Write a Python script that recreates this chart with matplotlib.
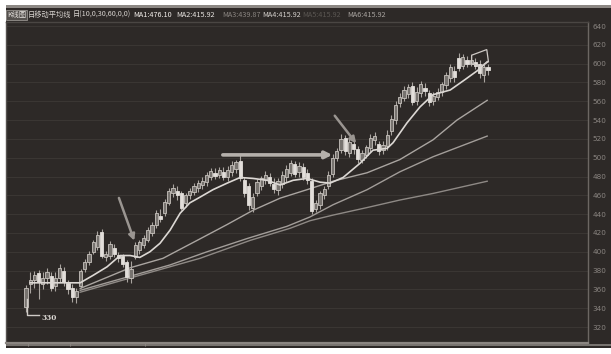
import matplotlib.pyplot as plt
from matplotlib.patches import Rectangle, Polygon

# daily candles (price units)
opens = [341, 366, 370, 377, 366, 372, 374, 364, 372, 380, 367, 362, 352, 364, 382, 389, 400, 405, 421, 394,
         395, 404, 397, 395, 389, 372, 394, 402, 407, 413, 420, 428, 438, 441, 452, 463, 465, 462, 452, 460,
         464, 468, 471, 474, 480, 484, 482, 485, 479, 485, 488, 497, 476, 470, 447, 462, 470, 476, 479, 472,
         466, 472, 479, 484, 493, 485, 490, 484, 475, 445, 450, 460, 470, 483, 500, 508, 521, 505, 515, 509,
         498, 503, 510, 519, 515, 508, 512, 528, 540, 558, 563, 568, 576, 560, 569, 574, 569, 560, 565, 570,
         577, 585, 592, 606, 598, 604, 600, 602, 600, 588, 596]
closes = [362, 370, 375, 368, 372, 378, 362, 372, 383, 368, 360, 352, 358, 380, 389, 398, 410, 418, 396, 398,
          408, 398, 393, 387, 373, 382, 407, 410, 415, 423, 428, 441, 435, 453, 465, 468, 460, 447, 460, 465,
          470, 473, 475, 482, 486, 481, 487, 480, 487, 492, 495, 478, 462, 450, 458, 474, 478, 482, 473, 467,
          475, 482, 488, 494, 483, 491, 480, 476, 443, 452, 462, 467, 482, 500, 507, 520, 507, 517, 509, 499,
          505, 511, 521, 523, 507, 514, 524, 541, 556, 565, 572, 575, 559, 570, 578, 571, 559, 566, 570, 578,
          588, 596, 586, 595, 607, 600, 604, 598, 590, 596, 593]
highs = [365, 378, 380, 381, 378, 383, 378, 378, 387, 384, 370, 366, 362, 382, 392, 401, 413, 422, 424, 401,
         411, 408, 400, 398, 391, 390, 410, 413, 418, 426, 432, 444, 445, 456, 468, 472, 470, 465, 463, 468,
         473, 476, 479, 485, 489, 489, 490, 490, 491, 496, 498, 503, 479, 473, 463, 477, 481, 486, 484, 478,
         478, 486, 492, 498, 497, 495, 494, 488, 478, 455, 465, 470, 486, 504, 510, 525, 524, 520, 521, 512,
         508, 514, 525, 527, 518, 518, 530, 545, 560, 569, 576, 578, 580, 575, 582, 579, 572, 570, 574, 581,
         591, 600, 598, 611, 610, 608, 608, 606, 604, 600, 600]
lows = [336, 356, 362, 350, 360, 366, 358, 358, 368, 364, 355, 347, 346, 362, 379, 386, 398, 402, 393, 390,
        392, 394, 389, 384, 368, 367, 392, 398, 404, 410, 417, 425, 432, 438, 450, 458, 455, 444, 448, 456,
        460, 464, 467, 470, 476, 477, 478, 476, 475, 481, 484, 475, 458, 444, 442, 459, 466, 472, 470, 462,
        460, 468, 474, 481, 480, 479, 476, 472, 440, 442, 446, 456, 467, 480, 497, 505, 503, 501, 504, 494,
        494, 500, 506, 514, 503, 504, 508, 524, 536, 554, 560, 563, 556, 556, 565, 566, 555, 556, 561, 566,
        573, 581, 580, 592, 594, 596, 597, 594, 585, 580, 588]

# moving average lines, sampled along the chart (candle index, price)
ma1_idx = [1.0, 12.9, 16.0, 19.3, 22.4, 24.8, 27.1, 29.5, 31.9, 34.3, 36.7, 39.0, 41.4, 44.5, 47.9, 51.0, 54.0, 57.4,
           60.5, 63.6, 66.9, 70.0, 72.4, 75.5, 79.5, 82.6, 86.0, 87.4, 90.7, 93.8, 96.9, 101.0, 104.5, 107.6, 109.8]
ma1_val = [367, 367, 375, 384, 396, 396, 394, 400, 409, 423, 441, 452, 458, 466, 473, 479, 478, 476,
           471, 476, 478, 474, 473, 479, 494, 508, 510, 516, 537, 554, 567, 572, 583, 593, 602]
ma2_idx = [12.9, 24.8, 32.6, 40.7, 47.9, 54.0, 60.5, 66.9, 73.1, 81.2, 89.0, 96.9, 102.6, 109.8]
ma2_val = [361, 383, 393, 412, 429, 444, 457, 466, 475, 484, 498, 519, 540, 561]
ma3_idx = [12.9, 24.8, 34.3, 43.1, 52.6, 62.1, 67.6, 73.1, 81.2, 89.0, 96.9, 109.8]
ma3_val = [359, 374, 386, 400, 414, 427, 437, 450, 466, 485, 501, 523]
ma4_idx = [12.9, 27.1, 41.4, 53.3, 62.9, 67.6, 73.1, 81.2, 89.0, 96.9, 109.8]
ma4_val = [357, 375, 393, 412, 425, 433, 439, 447, 455, 462, 475]

yticks = list(range(320, 641, 20))
header = [("K线图", "#e8e4e0"), ("日移动平均线", "#d8d4d0"), ("日(10,0,30,60,0,0)", "#d8d4d0"),
          ("MA1:476.10", "#f4f0ec"), ("MA2:415.92", "#e8e4e0"), ("MA3:439.87", "#8a8581"),
          ("MA4:415.92", "#d4d0cc"), ("MA5:415.92", "#5a5652"), ("MA6:415.92", "#a8a39f")]
header_x = [7, 28, 73, 133, 176, 222, 262, 302, 347]

BG = "#2d2927"
W, H = 611, 354

fig = plt.figure(figsize=(6.11, 3.54), dpi=100, facecolor="white")
fig.patches.append(Rectangle((6 / W, 6 / H), 605 / W, 342 / H, transform=fig.transFigure,
                             facecolor=BG, edgecolor="none", zorder=-10))
fig.patches.append(Rectangle((6 / W, 1 - 8 / H), 605 / W, 2.5 / H, transform=fig.transFigure,
                             facecolor="#8c8884", edgecolor="none", zorder=-10))
fig.patches.append(Rectangle((6 / W, 8 / H), 605 / W, 2 / H, transform=fig.transFigure,
                             facecolor="#77736f", edgecolor="none", zorder=-10))

ax = fig.add_axes([6 / W, 11 / H, 582 / W, 321 / H])
ax.set_facecolor(BG)

n = len(opens)
idx = list(range(n))
up = [c >= o for o, c in zip(opens, closes)]

ax.vlines(idx, lows, highs, color="#a9a49f", lw=0.8, zorder=2)
for i in idx:
    lo, hi = min(opens[i], closes[i]), max(opens[i], closes[i])
    if up[i]:
        ax.bar(i, max(hi - lo, 1), bottom=lo, width=0.75, facecolor="#77736f",
               edgecolor="#c8c3be", lw=0.6, zorder=3)
    else:
        ax.bar(i, max(hi - lo, 1), bottom=lo, width=0.75, facecolor="#e2deda",
               edgecolor="#e2deda", lw=0.6, zorder=3)

ax.plot(ma4_idx, ma4_val, color="#8e8985", lw=1.0, zorder=1)
ax.plot(ma3_idx, ma3_val, color="#a29d99", lw=1.0, zorder=1)
ax.plot(ma2_idx, ma2_val, color="#aaa5a1", lw=1.0, zorder=1)
ax.plot(ma1_idx, ma1_val, color="#dcd8d4", lw=1.2, zorder=4)

# hand-drawn marks
ax.annotate("", xy=(26, 409), xytext=(21.9, 460),
            arrowprops=dict(arrowstyle="-|>", color="#9a9591", lw=1.8, mutation_scale=9), zorder=5)
ax.annotate("", xy=(73.6, 503), xytext=(46.2, 503),
            arrowprops=dict(arrowstyle="-|>", color="#b5b0ab", lw=2.6, mutation_scale=10), zorder=5)
ax.annotate("", xy=(79, 513), xytext=(73.1, 547),
            arrowprops=dict(arrowstyle="-|>", color="#9a9591", lw=1.8, mutation_scale=9), zorder=5)
ax.add_patch(Polygon([(106.1, 609), (109.7, 615), (110.1, 602), (108.1, 597), (106.1, 600)],
                     closed=True, fill=False, edgecolor="#cfcac6", lw=0.9, zorder=5))
ax.plot([0.2, 0.2, 3.0], [350, 332.7, 332.7], color="#cfcac6", lw=1.0, zorder=5)
ax.text(3.7, 329.5, "330", color="#dedad6", fontsize=5.2, family="DejaVu Serif",
        fontweight="bold", va="center", ha="left", zorder=5)

ax.set_xlim(-4.76, 133.8)
ax.set_ylim(303.0, 644.3)
ax.yaxis.tick_right()
ax.set_yticks(yticks)
ax.set_yticklabels([str(v) for v in yticks])
ax.tick_params(axis="y", length=0, pad=3, labelsize=5.2, labelcolor="#8a8581")
ax.set_xticks([0.5, 10.5, 28.3])
ax.set_xticklabels([])
ax.tick_params(axis="x", length=2, color="#8a8581", width=0.8)
ax.grid(axis="y", color="#3b3734", lw=0.7)
ax.set_axisbelow(True)
for side, col in [("left", "#55514e"), ("top", "#4a4643"), ("right", "#6c6763"), ("bottom", "#8a8581")]:
    ax.spines[side].set_color(col)
    ax.spines[side].set_linewidth(1.0 if side != "bottom" else 1.6)

for (txt, col), x in zip(header, header_x):
    kw = {}
    if txt == "K线图":
        kw["bbox"] = dict(boxstyle="square,pad=0.15", facecolor="#55514e", edgecolor="#a8a39f", lw=0.5)
    fig.text(x / W, 1 - 15 / H, txt, color=col, fontsize=5.2, va="center", ha="left",
             family=["Noto Sans CJK SC", "DejaVu Sans"], **kw)

fig.savefig("out.png", dpi=100, facecolor=fig.get_facecolor())
